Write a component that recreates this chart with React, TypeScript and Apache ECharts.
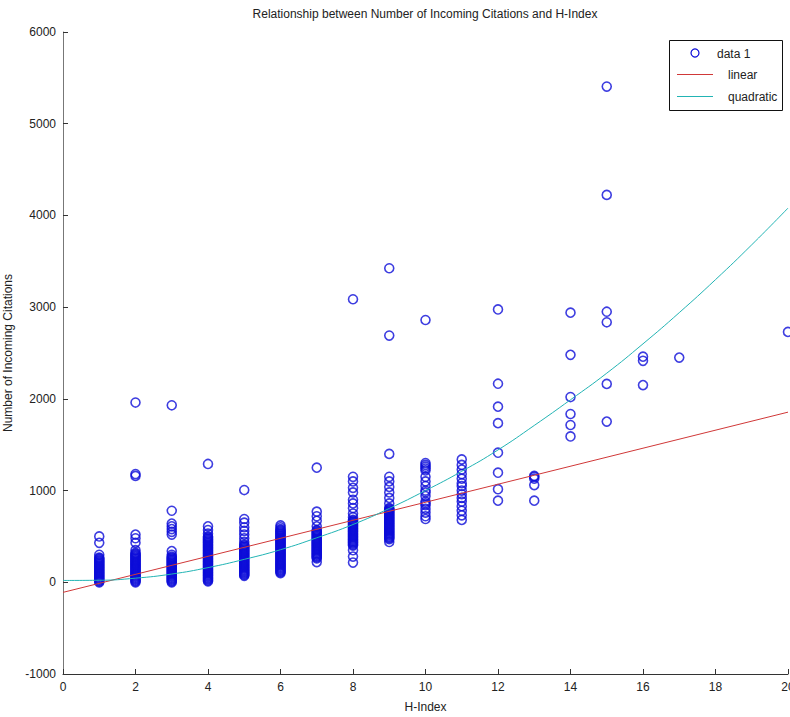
import React, { useEffect, useRef } from "react";
import * as echarts from "echarts";

// ---- Data ----
const hIndexValues = [1, 2, 3, 4, 5, 6, 7, 8, 9, 10, 11, 12, 13, 14, 15, 16, 17, 20];

const citationsH1 = [500, 430, 300, 270, 260, 250, 240, 230, 220, 210, 200, 190, 180, 170, 160, 150, 140, 130, 120, 110, 100, 90, 80, 70, 60, 50, 40, 30, 20, 10, 0];
const citationsH2 = [1960, 1180, 1160, 520, 480, 430, 350, 320, 310, 300, 290, 280, 270, 260, 250, 240, 230, 220, 210, 200, 190, 180, 170, 160, 150, 140, 130, 120, 110, 100, 90, 80, 70, 60, 50, 40, 30, 20, 10, 0];
const citationsH3 = [1930, 780, 640, 610, 580, 550, 520, 340, 300, 280, 270, 260, 250, 240, 230, 220, 210, 200, 190, 180, 170, 160, 150, 140, 130, 120, 110, 100, 90, 80, 70, 60, 50, 40, 30, 20, 10, 0];
const citationsH4 = [1290, 610, 570, 530, 500, 490, 480, 470, 460, 450, 440, 430, 420, 410, 400, 390, 380, 370, 360, 350, 340, 330, 320, 310, 300, 290, 280, 270, 260, 250, 240, 230, 220, 210, 200, 190, 180, 170, 160, 150, 140, 130, 120, 110, 100, 90, 80, 70, 60, 50, 40, 30, 20, 10];
const citationsH5 = [1006, 690, 650, 600, 560, 520, 480, 440, 410, 400, 390, 380, 370, 360, 350, 340, 330, 320, 310, 300, 290, 280, 270, 260, 250, 240, 230, 220, 210, 200, 190, 180, 170, 160, 150, 140, 130, 120, 110, 100, 90, 80, 70];
const citationsH6 = [620, 600, 580, 570, 560, 550, 540, 530, 520, 510, 500, 490, 480, 470, 460, 450, 440, 430, 420, 410, 400, 390, 380, 370, 360, 350, 340, 330, 320, 310, 300, 290, 280, 270, 260, 250, 240, 230, 220, 210, 200, 190, 180, 170, 160, 150, 140, 130, 120, 110, 100];
const citationsH7 = [1250, 770, 720, 670, 610, 570, 560, 550, 540, 530, 520, 510, 500, 490, 480, 470, 460, 450, 440, 430, 420, 410, 400, 390, 380, 370, 360, 350, 340, 330, 320, 310, 300, 290, 280, 270, 260, 220];
const citationsH8 = [3086, 1150, 1100, 1030, 980, 900, 860, 810, 750, 710, 680, 670, 660, 650, 640, 630, 620, 610, 600, 590, 580, 570, 560, 550, 540, 530, 520, 510, 500, 490, 480, 470, 460, 450, 440, 430, 420, 410, 400, 350, 280, 215];
const citationsH9 = [3424, 2690, 1400, 1150, 1100, 1040, 980, 920, 860, 810, 800, 790, 780, 770, 760, 750, 740, 730, 720, 710, 700, 690, 680, 670, 660, 650, 640, 630, 620, 610, 600, 590, 580, 570, 560, 550, 540, 530, 520, 510, 500, 490, 480, 470, 440];
const citationsH10 = [2860, 1300, 1280, 1260, 1240, 1220, 1150, 1100, 1050, 1000, 980, 940, 880, 860, 840, 800, 760, 720, 690];
const citationsH11 = [1340, 1280, 1230, 1180, 1130, 1080, 1050, 1000, 960, 920, 880, 830, 780, 730, 680];
const citationsH12 = [2975, 2165, 1915, 1735, 1413, 1195, 1015, 890];
const citationsH13 = [1160, 1150, 1130, 1060, 890];
const citationsH14 = [2940, 2480, 2020, 1835, 1715, 1590];
const citationsH15 = [5405, 4224, 2950, 2835, 2163, 1752];
const citationsH16 = [2460, 2415, 2150];
const citationsH17 = [2450];
const citationsH20 = [2730];

const citationsByH = [
  citationsH1, citationsH2, citationsH3, citationsH4, citationsH5, citationsH6,
  citationsH7, citationsH8, citationsH9, citationsH10, citationsH11, citationsH12,
  citationsH13, citationsH14, citationsH15, citationsH16, citationsH17, citationsH20,
];

// Linear fit line endpoints
const linearX = [0, 20];
const linearY = [-110, 1855];

// Quadratic fit curve, read at integer H-Index values
const quadX = [0, 1, 2, 3, 4, 5, 6, 7, 8, 9, 10, 11, 12, 13, 14, 15, 16, 17, 18, 19, 20];
const quadY = [20, 22, 45, 90, 160, 250, 355, 485, 630, 805, 1000, 1210, 1443, 1710, 1990, 2280, 2600, 2940, 3300, 3680, 4080];

// Axis ticks
const xTicks = { min: 0, max: 20, interval: 2 };
const yTicks = { min: -1000, max: 6000, interval: 1000 };

const FONT = "'Liberation Sans', Arial, Helvetica, sans-serif";
const BLUE = "#0c0cd8";

export default function App() {
  const ref = useRef<HTMLDivElement>(null);

  useEffect(() => {
    if (!ref.current) return;
    const chart = echarts.init(ref.current, undefined, { renderer: "svg" });

    const scatterData: number[][] = [];
    hIndexValues.forEach((h, i) => {
      citationsByH[i].forEach((c) => scatterData.push([h, c]));
    });

    const option = {
      animation: false,
      backgroundColor: "#ffffff",
      textStyle: { fontFamily: FONT },
      grid: { left: 63, right: 2, top: 32, bottom: 43, containLabel: false, outerBoundsMode: "none" },
      xAxis: {
        type: "value",
        min: xTicks.min,
        max: xTicks.max,
        interval: xTicks.interval,
        name: "H-Index",
        nameLocation: "middle",
        nameGap: 27,
        nameTextStyle: { color: "#222", fontSize: 12, fontFamily: FONT },
        axisLine: { show: true, onZero: false, lineStyle: { color: "#333", width: 1 } },
        axisTick: { show: true, inside: true, length: 5, lineStyle: { color: "#333" } },
        axisLabel: { color: "#222", fontSize: 12, margin: 7, fontFamily: FONT, formatter: (v: number) => String(v) },
        splitLine: { show: false },
      },
      yAxis: {
        type: "value",
        min: yTicks.min,
        max: yTicks.max,
        interval: yTicks.interval,
        name: "Number of Incoming Citations",
        nameLocation: "middle",
        nameGap: 46,
        nameTextStyle: { color: "#222", fontSize: 12, fontFamily: FONT },
        axisLine: { show: true, onZero: false, lineStyle: { color: "#777", width: 1 } },
        axisTick: { show: true, inside: true, length: 5, lineStyle: { color: "#333" } },
        axisLabel: { color: "#222", fontSize: 12, margin: 7, fontFamily: FONT, formatter: (v: number) => String(v) },
        splitLine: { show: false },
      },
      series: [
        {
          name: "data 1",
          type: "scatter",
          data: scatterData,
          symbol: "circle",
          symbolSize: 9,
          itemStyle: { color: "rgba(0,0,0,0)", borderColor: BLUE, borderWidth: 1.6 },
          clip: false,
          z: 2,
        },
        {
          name: "linear",
          type: "line",
          data: linearX.map((x, i) => [x, linearY[i]]),
          symbol: "none",
          lineStyle: { color: "#d03838", width: 1 },
          z: 3,
        },
        {
          name: "quadratic",
          type: "line",
          data: quadX.map((x, i) => [x, quadY[i]]),
          symbol: "none",
          smooth: true,
          lineStyle: { color: "#22b4b4", width: 1 },
          z: 3,
        },
      ],
      graphic: [
        {
          type: "text",
          x: 425,
          y: 14,
          style: {
            text: "Relationship between Number of Incoming Citations and H-Index",
            font: `12px ${FONT}`,
            fill: "#222",
            align: "center",
            verticalAlign: "middle",
          },
        },
        {
          type: "group",
          z: 100,
          children: [
            {
              type: "rect",
              shape: { x: 669.5, y: 40.5, width: 113, height: 70 },
              style: { fill: "#ffffff", stroke: "#111", lineWidth: 1 },
            },
            {
              type: "circle",
              shape: { cx: 695, cy: 53, r: 4 },
              style: { fill: "none", stroke: BLUE, lineWidth: 1.2 },
            },
            {
              type: "text",
              x: 717,
              y: 54,
              style: { text: "data 1", font: `12px ${FONT}`, fill: "#222", verticalAlign: "middle" },
            },
            {
              type: "line",
              shape: { x1: 677, y1: 74.5, x2: 713, y2: 74.5 },
              style: { stroke: "#d03838", lineWidth: 1 },
            },
            {
              type: "text",
              x: 728,
              y: 75,
              style: { text: "linear", font: `12px ${FONT}`, fill: "#222", verticalAlign: "middle" },
            },
            {
              type: "line",
              shape: { x1: 677, y1: 96.5, x2: 713, y2: 96.5 },
              style: { stroke: "#22b4b4", lineWidth: 1 },
            },
            {
              type: "text",
              x: 728,
              y: 97,
              style: { text: "quadratic", font: `12px ${FONT}`, fill: "#222", verticalAlign: "middle" },
            },
          ],
        },
      ],
    };

    chart.setOption(option as any);
    return () => chart.dispose();
  }, []);

  return (
    <div
      ref={ref}
      style={{ position: "absolute", left: 0, top: 0, width: 790, height: 717, background: "#fff" }}
    />
  );
}
